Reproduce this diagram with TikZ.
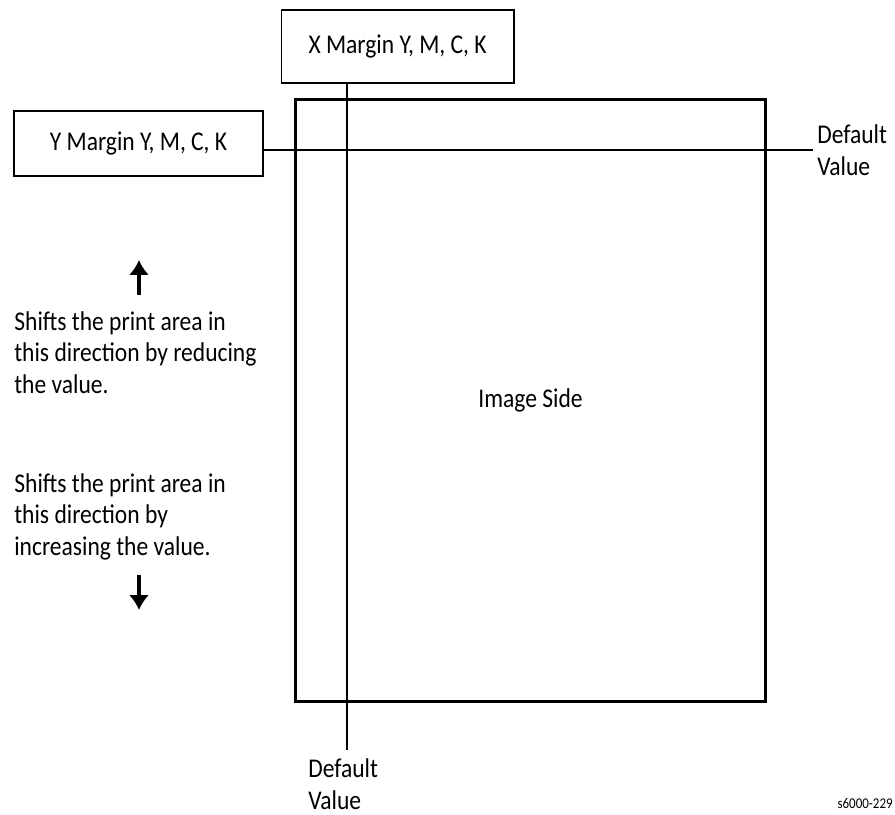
\documentclass[tikz,border=0pt]{standalone}
\usepackage{fontspec}
\setmainfont{Carlito}[FakeStretch=0.87]
\usetikzlibrary{arrows.meta,positioning}

\begin{document}
\begin{tikzpicture}[
    >={Latex[length=8.5pt,width=11.5pt]},
    x=0.02cm,
    y=-0.02cm,
    every node/.style={
        inner sep=0pt,
        font=\fontsize{15.4}{17.9}\selectfont
    },
    marginbox/.style={
        draw,
        line width=0.6pt
    },
    note/.style={
        align=left,
        anchor=base west
    }
]

\useasboundingbox (0,0) rectangle (895,814);

% ---------------- PAGINA ----------------

% Full d'impressio
\node[
    draw,
    line width=1.7pt,
    minimum width=9.42cm,
    minimum height=12.04cm
] (page) at (530.5,400.5) {Image Side};


% ---------------- MARGES ----------------

% Marge X
\node[
    marginbox,
    minimum width=4.66cm,
    minimum height=1.46cm
] (xbox) at (397.5,46.5) {X Margin Y, M, C, K};

% Marge Y
\node[
    marginbox,
    minimum width=4.98cm,
    minimum height=1.3cm
] (ybox) at (138.5,143.5) {Y Margin Y, M, C, K};


% ---------------- VALORS PER DEFECTE ----------------

\coordinate (xdef) at (347,750);
\coordinate (ydef) at (813,150);

% Linia vertical
\draw[
    line width=0.6pt
] (xdef |- xbox.south) -- (xdef);

% Linia horitzontal
\draw[
    line width=0.6pt
] (ybox.east |- ydef) -- (ydef);

% (base = darrera linia)
\node[note] (xdeftxt) at (308,809) {Default\\Value};
\node[note] (ydeftxt) at (817,175) {Default\\Value};


% ---------------- DESPLACAMENTS ----------------

\coordinate (uptail) at (139,295);
\coordinate (uphead) at (139,260);
\coordinate (dntail) at (139,575);
\coordinate (dnhead) at (139,610);

\draw[
    ->,
    line width=1.8pt
] (uptail) -- (uphead);

\node[note] (reduce) at (14,393)
    {Shifts the print area in\\this direction by reducing\\the value.};

\node[note] (increase) at (14,555)
    {Shifts the print area in\\this direction by\\increasing the value.};

\draw[
    ->,
    line width=1.8pt
] (dntail) -- (dnhead);


% ---------------- REFERENCIA ----------------

\node[
    anchor=base east,
    font=\fontsize{8.5}{10}\selectfont
] (figref) at (893,808) {s6000-229};

\end{tikzpicture}
\end{document}
